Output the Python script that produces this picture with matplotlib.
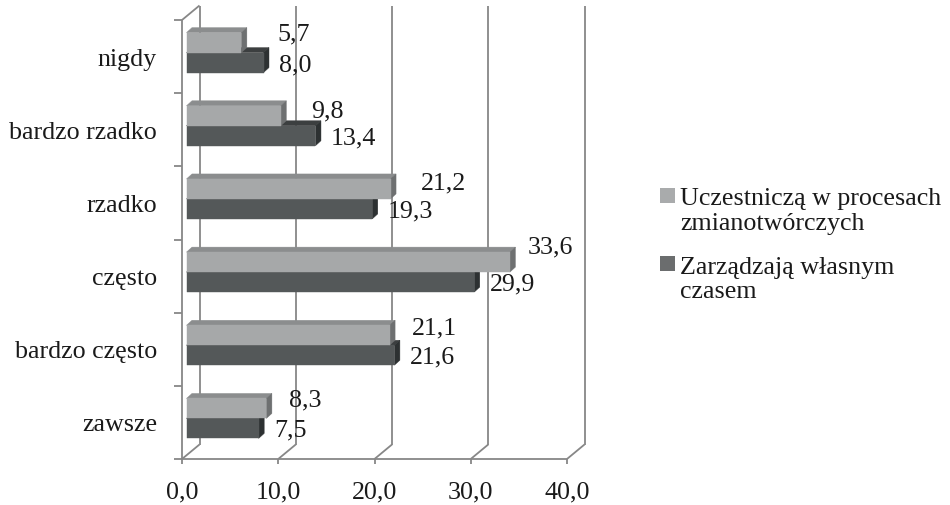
import matplotlib
matplotlib.use("Agg")
import matplotlib.pyplot as plt
from matplotlib.patches import Polygon, Rectangle
import numpy as np

# ---- data -------------------------------------------------------------
categories = ["nigdy", "bardzo rzadko", "rzadko", "często", "bardzo często", "zawsze"]
uczestnicza = [5.7, 9.8, 21.2, 33.6, 21.1, 8.3]     # Uczestniczą w procesach zmianotwórczych
zarzadzaja = [8.0, 13.4, 19.3, 29.9, 21.6, 7.5]     # Zarządzają własnym czasem
legend_lines = [["Uczestniczą w procesach", "zmianotwórczych"],
                ["Zarządzają własnym", "czasem"]]
x_ticks = [0, 10, 20, 30, 40]

# ---- style ------------------------------------------------------------
W, H, DPI = 950, 505, 100
FONT = "Liberation Serif"
FS = 18.7
TXT = "#1a1a1a"
GRID = "#878787"
LW = 1.3

WALL_DEPTH = (17.5, 14.5)   # pixel shift of the back wall
BAR_FRONT = (4.5, 4.0)      # pixel shift of bar front faces
BAR_DEPTH = (5.5, 5.0)      # pixel depth of each bar
BAR_H = 0.273               # bar thickness in category units

LIGHT = dict(front="#a6a8a9", top="#8b8d8e", side="#6e7071")
DARK = dict(front="#545859", top="#3c3f40", side="#2d3132")

# nudges (pixels) for the labels of the upper series
light_label_gap = [31, 25, 25, 12, 17, 17]
light_label_rise = [11, 7, 8, 17, 9, 10]

plt.rcParams["font.family"] = [FONT, "DejaVu Sans"]

fig = plt.figure(figsize=(W / DPI, H / DPI), dpi=DPI)
ax = fig.add_axes([182 / W, 46 / H, 385 / W, 439 / H])
ax.set_xlim(0, 40)
ax.set_ylim(0, len(categories))
ax.axis("off")

to_disp = ax.transData.transform
to_data = ax.transData.inverted().transform


def shifted(points, dx, dy):
    p = to_disp(np.asarray(points, float)) + np.array([dx, dy])
    return to_data(p)


def seg(p0, p1, **kw):
    p = np.vstack([p0, p1])
    ax.plot(p[:, 0], p[:, 1], color=GRID, lw=LW, solid_capstyle="butt",
            clip_on=False, zorder=kw.get("zorder", 1))


n = len(categories)

# ---- back wall and floor ---------------------------------------------
for t in x_ticks:
    back = shifted([(t, 0), (t, n)], *WALL_DEPTH)
    seg(back[0], back[1])
    seg((t, 0), shifted([(t, 0)], *WALL_DEPTH)[0])
    seg((t, 0), shifted([(t, 0)], 0, -5)[0])
seg((0, 0), (40, 0))
seg((0, 0), (0, n))
seg((0, n), shifted([(0, n)], *WALL_DEPTH)[0])
for k in range(n + 1):
    seg(shifted([(0, k)], -8, 0)[0], (0, k))


# ---- 3-D bars ----------------------------------------------------------
def bar3d(v, y0, y1, colors, z):
    fx, fy = BAR_FRONT
    bx, by = fx + BAR_DEPTH[0], fy + BAR_DEPTH[1]
    front = shifted([(0, y0), (v, y0), (v, y1), (0, y1)], fx, fy)
    top = np.vstack([shifted([(0, y1), (v, y1)], fx, fy),
                     shifted([(v, y1), (0, y1)], bx, by)])
    side = np.vstack([shifted([(v, y0), (v, y1)], fx, fy),
                      shifted([(v, y1), (v, y0)], bx, by)])
    for pts, key in ((top, "top"), (side, "side"), (front, "front")):
        ax.add_patch(Polygon(pts, closed=True, facecolor=colors[key],
                             edgecolor=colors[key], lw=0.3, zorder=z,
                             clip_on=False))


def fmt(v):
    return f"{v:.1f}".replace(".", ",")


for i, cat in enumerate(categories):
    c = n - 1 - i + 0.5
    vd, vl = zarzadzaja[i], uczestnicza[i]
    bar3d(vd, c - BAR_H, c, DARK, 2 + i * 2)
    bar3d(vl, c, c + BAR_H, LIGHT, 3 + i * 2)

    end = BAR_FRONT[0] + BAR_DEPTH[0]
    ax.annotate(fmt(vd), xy=(vd, c - BAR_H / 2), xytext=(end + 10, BAR_FRONT[1] - 8.5),
                textcoords="offset pixels", ha="left", va="baseline",
                fontsize=FS, color=TXT, zorder=20, annotation_clip=False)
    ax.annotate(fmt(vl), xy=(vl, c + BAR_H / 2),
                xytext=(end + light_label_gap[i], BAR_FRONT[1] + light_label_rise[i] - 8.5),
                textcoords="offset pixels", ha="left", va="baseline",
                fontsize=FS, color=TXT, zorder=20, annotation_clip=False)

    ax.annotate(cat, xy=(0, c), xytext=(-25, -9), textcoords="offset pixels",
                ha="right", va="baseline", fontsize=FS, color=TXT,
                annotation_clip=False)

for t in x_ticks:
    ax.annotate(f"{t:.1f}".replace(".", ","), xy=(t, 0), xytext=(0, -39),
                textcoords="offset pixels", ha="center", va="baseline",
                fontsize=FS, color=TXT, annotation_clip=False)

# ---- legend -------------------------------------------------------------
legend_colors = ["#a9abac", "#6b6d6e"]
square_tops = [188, 256]
baselines = [[205, 230], [274, 298]]
for lines, col, sq, bl in zip(legend_lines, legend_colors, square_tops, baselines):
    fig.add_artist(Rectangle((660 / W, (H - sq - 15) / H), 15 / W, 15 / H,
                             transform=fig.transFigure, facecolor=col,
                             edgecolor="none"))
    for line, b in zip(lines, bl):
        fig.text(680 / W, (H - b) / H, line, ha="left", va="baseline",
                 fontsize=FS, color=TXT)

fig.savefig("out.png", dpi=DPI)
